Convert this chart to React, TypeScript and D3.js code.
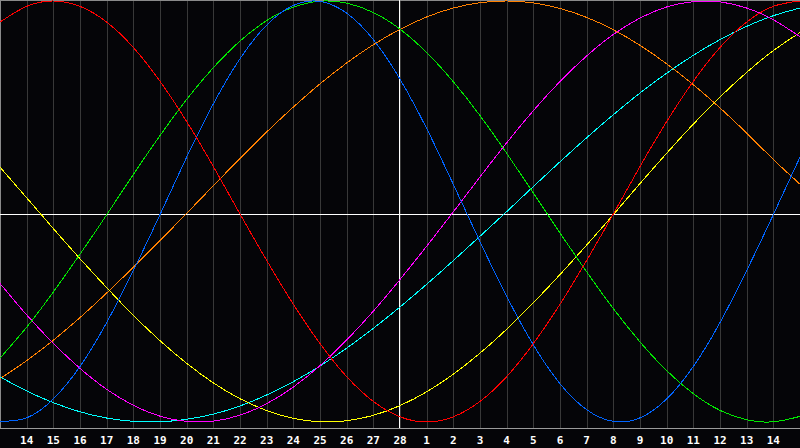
import * as React from "react";
import * as d3 from "d3";

// day labels for gridlines 1..29 (Feb 14 .. Mar 14)
const dayLabels = [
  "14", "15", "16", "17", "18", "19", "20", "21", "22", "23", "24", "25", "26", "27", "28",
  "1", "2", "3", "4", "5", "6", "7", "8", "9", "10", "11", "12", "13", "14",
];

// values read at each day 0..30
const blue = [-0.997, -0.98, -0.889, -0.733, -0.522, -0.272, -0.003, 0.267, 0.517, 0.729, 0.887, 0.979, 0.998, 0.943, 0.819, 0.633, 0.401, 0.139, -0.133, -0.396, -0.629, -0.816, -0.941, -0.997, -0.98, -0.889, -0.733, -0.522, -0.272, -0.003, 0.267];
const red = [0.901, 0.975, 1.0, 0.975, 0.901, 0.782, 0.623, 0.434, 0.223, 0.0, -0.223, -0.434, -0.623, -0.782, -0.901, -0.975, -1.0, -0.975, -0.901, -0.782, -0.623, -0.434, -0.223, 0.0, 0.223, 0.434, 0.623, 0.782, 0.901, 0.975, 1.0];
const green = [-0.693, -0.544, -0.375, -0.193, -0.004, 0.186, 0.368, 0.538, 0.687, 0.812, 0.908, 0.971, 0.999, 0.99, 0.946, 0.868, 0.758, 0.621, 0.462, 0.285, 0.099, -0.091, -0.278, -0.455, -0.615, -0.753, -0.864, -0.944, -0.989, -0.999, -0.973];
const magenta = [-0.334, -0.485, -0.622, -0.742, -0.843, -0.92, -0.972, -0.997, -0.996, -0.967, -0.912, -0.832, -0.729, -0.606, -0.467, -0.315, -0.155, 0.01, 0.174, 0.334, 0.485, 0.622, 0.742, 0.843, 0.92, 0.972, 0.997, 0.996, 0.967, 0.912, 0.832];
const yellow = [0.22, 0.076, -0.07, -0.215, -0.354, -0.487, -0.609, -0.718, -0.812, -0.888, -0.945, -0.983, -0.999, -0.994, -0.968, -0.921, -0.855, -0.77, -0.669, -0.554, -0.427, -0.291, -0.149, -0.003, 0.143, 0.285, 0.422, 0.549, 0.665, 0.767, 0.852];
const orange = [-0.792, -0.705, -0.607, -0.498, -0.38, -0.256, -0.128, 0.003, 0.133, 0.261, 0.385, 0.502, 0.611, 0.709, 0.795, 0.867, 0.925, 0.967, 0.992, 1.0, 0.991, 0.965, 0.923, 0.865, 0.792, 0.705, 0.607, 0.498, 0.38, 0.256, 0.14];
const cyan = [-0.783, -0.851, -0.907, -0.951, -0.981, -0.997, -0.999, -0.987, -0.962, -0.923, -0.87, -0.806, -0.731, -0.645, -0.55, -0.447, -0.338, -0.224, -0.107, 0.011, 0.129, 0.245, 0.358, 0.466, 0.568, 0.661, 0.745, 0.819, 0.881, 0.931, 0.967];

const series = [
  { id: "orange", values: orange, color: "#ff8000" },
  { id: "cyan", values: cyan, color: "#00ffff" },
  { id: "yellow", values: yellow, color: "#ffff00" },
  { id: "magenta", values: magenta, color: "#ff00ff" },
  { id: "green", values: green, color: "#00e800" },
  { id: "blue", values: blue, color: "#0064ff" },
  { id: "red", values: red, color: "#ff0000" },
];

const W = 800;
const H = 448;
const PLOT_BOTTOM = 428;

export default function App() {
  const x = d3.scaleLinear().domain([0, 30]).range([0, W]);
  const y = d3.scaleLinear().domain([-1, 0, 1]).range([422, 214, 1]);

  const line = d3
    .line<number>()
    .x((_, i) => x(i))
    .y((v) => y(v))
    .curve(d3.curveNatural);

  const px = (v: number) => Math.round(v) + 0.5;

  return (
    <div style={{ position: "absolute", left: 0, top: 0 }}>
      <style>{`body{margin:0;background:#000}`}</style>
      <svg width={W} height={H} style={{ display: "block" }}>
        <rect x={0} y={0} width={W} height={H} fill="#050508" />

        {/* day gridlines */}
        {dayLabels.map((_, i) => (
          <line
            key={`g-${i}`}
            x1={px(x(i + 1))}
            x2={px(x(i + 1))}
            y1={0}
            y2={PLOT_BOTTOM}
            stroke="#383838"
            shapeRendering="crispEdges"
          />
        ))}

        {/* frame */}
        <line x1={0} x2={W} y1={0.5} y2={0.5} stroke="#8a8a8a" shapeRendering="crispEdges" />
        <line x1={0.5} x2={0.5} y1={0} y2={PLOT_BOTTOM} stroke="#8a8a8a" shapeRendering="crispEdges" />
        <line x1={0} x2={W} y1={PLOT_BOTTOM + 0.5} y2={PLOT_BOTTOM + 0.5} stroke="#9a9a9a" shapeRendering="crispEdges" />

        {/* today / zero lines */}
        <line x1={0} x2={W} y1={y(0) + 0.5} y2={y(0) + 0.5} stroke="#ffffff" shapeRendering="crispEdges" />
        <line x1={x(15) - 0.5} x2={x(15) - 0.5} y1={0} y2={PLOT_BOTTOM} stroke="#ffffff" shapeRendering="crispEdges" />

        {/* curves */}
        {series.map((s) => (
          <path
            key={s.id}
            d={line(s.values) ?? ""}
            fill="none"
            stroke={s.color}
            strokeWidth={1}
            shapeRendering="crispEdges"
          />
        ))}

        {/* day labels */}
        {dayLabels.map((t, i) => (
          <text
            key={`t-${i}`}
            x={x(i + 1)}
            y={444}
            textAnchor="middle"
            fill="#ffffff"
            fontFamily="'DejaVu Sans Mono', monospace"
            fontWeight="bold"
            fontSize={11}
          >
            {t}
          </text>
        ))}
      </svg>
    </div>
  );
}
